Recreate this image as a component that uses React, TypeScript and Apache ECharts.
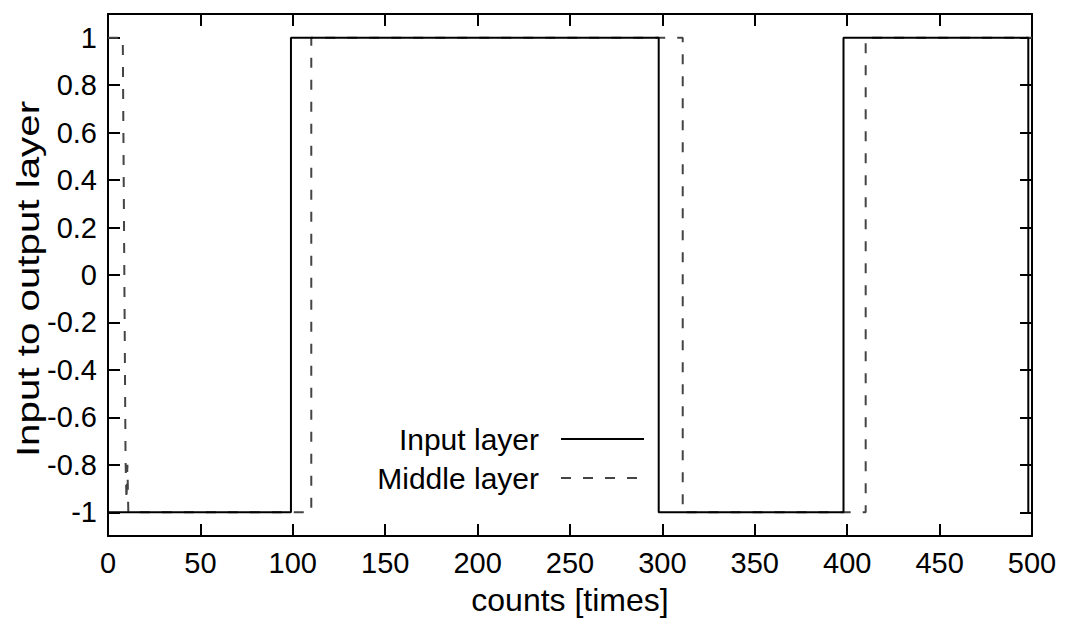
import React, { useEffect, useRef } from "react";
import * as echarts from "echarts";

const inputX = [0, 99, 99, 298, 298, 398, 398, 498, 498];
const inputY = [-1, -1, 1, 1, -1, -1, 1, 1, -1];

const middleX = [0, 8, 9.5, 10, 10.5, 11, 110, 110, 311, 311, 410, 410, 500];
const middleY = [1, 1, -0.78, -0.95, -0.8, -1, -1, 1, 1, -1, -1, 1, 1];

const yTicks = [-1, -0.8, -0.6, -0.4, -0.2, 0, 0.2, 0.4, 0.6, 0.8, 1];

const xTitle = "counts [times]";
const yTitle = "Input to output layer";

const FONT = "'Liberation Sans', Arial, sans-serif";

export default function App() {
  const ref = useRef<HTMLDivElement>(null);
  useEffect(() => {
    if (!ref.current) return;
    const chart = echarts.init(ref.current, undefined, { renderer: "svg" });
    const toPairs = (xs: number[], ys: number[]) => xs.map((x, i) => [x, ys[i]]);
    const axisLine = { show: true, onZero: false, lineStyle: { color: "#000", width: 2 } };
    const tick = { show: true, inside: true, length: 12, lineStyle: { color: "#000", width: 2 } };
    chart.setOption({
      animation: false,
      backgroundColor: "#fff",
      grid: { left: 108, right: 35, top: 14, bottom: 82, containLabel: false },
      legend: {
        data: ["Input layer", "Middle layer"],
        orient: "vertical",
        align: "right",
        right: 417,
        top: 419,
        itemWidth: 83,
        itemHeight: 14,
        itemGap: 9,
        itemStyle: { opacity: 0 },
        textStyle: {
          fontFamily: FONT,
          fontSize: 30,
          color: "#000",
          padding: [0, 17, 0, 0],
        },
      },
      graphic: [
        {
          type: "text",
          x: 28,
          y: 279,
          rotation: Math.PI / 2,
          scaleX: 1.26,
          style: {
            text: yTitle,
            fontFamily: FONT,
            fontSize: 32,
            fill: "#000",
            align: "center",
            verticalAlign: "middle",
          },
        },
      ],
      xAxis: [
        {
          type: "value",
          position: "bottom",
          min: 0,
          max: 500,
          interval: 50,
          axisLine,
          axisTick: tick,
          splitLine: { show: false },
          axisLabel: { fontFamily: FONT, fontSize: 29, color: "#000", margin: 12 },
          name: xTitle,
          nameLocation: "middle",
          nameGap: 48,
          nameTextStyle: { fontFamily: FONT, fontSize: 32, color: "#000" },
        },
        {
          type: "value",
          position: "top",
          min: 0,
          max: 500,
          interval: 50,
          axisLine,
          axisTick: tick,
          splitLine: { show: false },
          axisLabel: { show: false },
        },
      ],
      yAxis: [
        {
          type: "value",
          position: "left",
          min: -1.1,
          max: 1.1,
          axisLine,
          axisTick: { ...tick, customValues: yTicks },
          splitLine: { show: false },
          axisLabel: {
            fontFamily: FONT,
            fontSize: 29,
            color: "#000",
            margin: 11,
            customValues: yTicks,
          },
        },
        {
          type: "value",
          position: "right",
          min: -1.1,
          max: 1.1,
          axisLine,
          axisTick: { ...tick, customValues: yTicks },
          splitLine: { show: false },
          axisLabel: { show: false, customValues: yTicks },
        },
      ],
      series: [
        {
          name: "Middle layer",
          type: "line",
          data: toPairs(middleX, middleY),
          showSymbol: false,
          symbol: "none",
          lineStyle: { color: "#444", width: 2, type: [10, 12] },
          itemStyle: { color: "#444" },
          z: 2,
        },
        {
          name: "Input layer",
          type: "line",
          data: toPairs(inputX, inputY),
          showSymbol: false,
          symbol: "none",
          lineStyle: { color: "#000", width: 2 },
          itemStyle: { color: "#000" },
          z: 3,
        },
      ],
    });
    return () => chart.dispose();
  }, []);
  return (
    <div
      ref={ref}
      style={{ position: "absolute", left: 0, top: 0, width: 1067, height: 621, background: "#fff" }}
    />
  );
}
